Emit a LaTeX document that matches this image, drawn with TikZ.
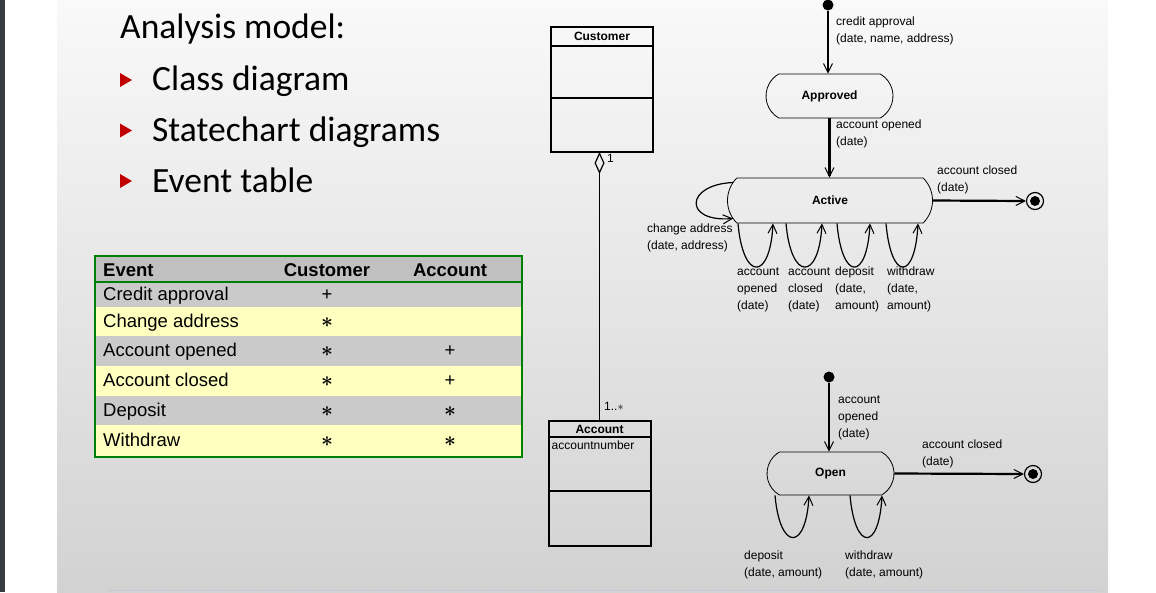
\documentclass[tikz,border=0pt]{standalone}
\usepackage{fontspec}
\setmainfont{Liberation Sans}
\newfontfamily\slidefont{Carlito}
\usetikzlibrary{arrows.meta,shapes.misc,positioning}
\definecolor{stripgray}{RGB}{58,61,64}
\definecolor{slidetop}{RGB}{249,249,249}
\definecolor{slidebot}{RGB}{210,210,210}
\definecolor{dotblue}{RGB}{185,198,215}
\definecolor{bulletred}{RGB}{192,0,0}
\definecolor{headgray}{RGB}{192,192,192}
\definecolor{rowgray}{RGB}{202,202,202}
\definecolor{rowyellow}{RGB}{255,255,192}
\definecolor{tablegreen}{RGB}{0,128,0}
\newcommand\evstar{{\fontsize{20}{20}\selectfont\boldmath$\ast$}}
\tikzset{
  slidetext/.style={anchor=base west, inner sep=0pt, font=\slidefont\fontsize{35.5}{40}\selectfont},
  cell/.style={anchor=base, inner sep=0pt, font=\fontsize{18.5}{20}\selectfont},
  lbl/.style={anchor=base west, align=left, inner sep=0pt, font=\fontsize{12}{17}\selectfont},
  statebox/.style={draw, line width=0.8pt, rounded rectangle, rounded rectangle arc length=120,
    inner sep=0pt, font=\bfseries\fontsize{12}{14}\selectfont},
  trans/.style={line width=1.2pt, -{Straight Barb[length=9pt,width=9pt,line width=1pt]}},
  mainarc/.style={trans, line width=2.2pt},
  initdot/.style={circle, fill, inner sep=0pt, minimum size=11pt},
  finaldot/.style={circle, draw, line width=1.2pt, inner sep=0pt, minimum size=17pt,
    path picture={\fill (path picture bounding box.center) circle (5pt);}},
  classbox/.style={draw, line width=2pt, minimum width=102pt, inner sep=0pt, outer sep=0pt},
  classline/.style={line width=2pt},
  classname/.style={inner sep=0pt, font=\bfseries\fontsize{12}{14}\selectfont},
}
\begin{document}
\begin{tikzpicture}[x=1pt,y=-1pt]
\useasboundingbox (0,0) rectangle (1156,592);
% slide background
\fill[white] (0,0) rectangle (1156,592);
\fill[stripgray] (0,0) rectangle (5,592);
\shade[top color=slidetop, bottom color=slidebot] (57,0) rectangle (1108,592);
\draw[dotblue, line width=1.2pt, dash pattern=on 2pt off 1.5pt] (110,590.5) -- (1100,590.5);

% title and bullets
\node[slidetext] (title) at (120,38) {Analysis model:};
\foreach \txt [count=\i] in {Class diagram, Statechart diagrams, Event table} {
  \pgfmathsetmacro\by{80+50.5*(\i-1)}
  \pgfmathsetmacro\ty{90+51*(\i-1)}
  \fill[bulletred] (120,\by-7) -- (132,\by) -- (120,\by+7) -- cycle;
  \node[slidetext] (item\i) at (152,\ty) {\txt};
}

% event table
\fill[headgray] (95,256) rectangle (522,282);
\node[cell, anchor=base west, font=\bfseries\fontsize{18.5}{20}\selectfont] (hev) at (103,276) {Event};
\node[cell, font=\bfseries\fontsize{18.5}{20}\selectfont] (hcu) at (327,276) {Customer};
\node[cell, font=\bfseries\fontsize{18.5}{20}\selectfont] (hac) at (450,276) {Account};
\foreach \name/\cu/\ac/\top/\bot/\col [count=\r] in {
  Credit approval/+/{}/282/307/rowgray,
  Change address/\evstar/{}/307/336/rowyellow,
  Account opened/\evstar/+/336/366/rowgray,
  Account closed/\evstar/+/366/396/rowyellow,
  Deposit/\evstar/\evstar/396/425/rowgray,
  Withdraw/\evstar/\evstar/425/457/rowyellow} {
  \pgfmathsetmacro\base{(\top+\bot)/2+5.5}
  \fill[\col] (95,\top) rectangle (522,\bot);
  \draw[line width=0.8pt] (95,\bot) -- (522,\bot);
  \node[cell, anchor=base west] (ev\r) at (103,\base) {\name};
  \node[cell] (cu\r) at (327,\base) {\cu};
  \node[cell] (ac\r) at (450,\base) {\ac};
}
\draw[tablegreen, line width=2.5pt] (95,256) rectangle (522,457);
\draw[tablegreen, line width=2.5pt] (95,282) -- (522,282);

% class diagram
\node[classbox, minimum height=125pt] (cust) at (602,89.5) {};
\node[classname] (custname) at ([yshift=-9.5pt]cust.north) {Customer};
\draw[classline] ([yshift=-19pt]cust.north west) -- ([yshift=-19pt]cust.north east);
\draw[classline] ([yshift=-71pt]cust.north west) -- ([yshift=-71pt]cust.north east);
\node[classbox, minimum height=125pt] (acc) at (599.5,483.5) {};
\node[classname] (accname) at ([yshift=-8pt]acc.north) {Account};
\draw[classline] ([yshift=-16pt]acc.north west) -- ([yshift=-16pt]acc.north east);
\draw[classline] ([yshift=-70pt]acc.north west) -- ([yshift=-70pt]acc.north east);
\node[lbl, anchor=west] (accnum) at ([xshift=3pt,yshift=-24pt]acc.north west) {accountnumber};
\draw[line width=1.5pt, -{Diamond[open,length=22pt,width=10pt,line width=1.2pt]}]
  (acc.north) -- (acc.north |- cust.south);
\node[lbl, anchor=west] (mult1) at (607,158) {1};
\node[lbl, anchor=west] (mult2) at (604,406) {1..$\ast$};

% statechart of customer
\node[initdot] (ini1) at (828,5) {};
\node[statebox, minimum width=127pt, minimum height=44pt] (appr) at (829.5,96) {Approved};
\node[statebox, rounded rectangle arc length=90, minimum width=205pt, minimum height=45pt]
  (act) at (830,200.5) {Active};
\node[finaldot] (fin1) at (1035,201) {};
\draw[mainarc] (ini1) -- (ini1 |- appr.north);
\draw[mainarc] (appr.south) -- (appr.south |- act.north);
\draw[mainarc] (act.east) -- (fin1.west);
\draw[trans] ([xshift=6pt,yshift=18pt]act.west) .. controls +(-48,2) and +(-50,4)
  .. ([xshift=6pt,yshift=-18pt]act.west);
\foreach \a/\b in {-92/-57,-44/-8,7/40,56/88}
  \draw[trans] ([xshift=\a pt]act.south) .. controls +(5,58) and +(-3,58) .. ([xshift=\b pt]act.south);
\node[lbl] (l1) at (836,42) {credit approval\\(date, name, address)};
\node[lbl] (l2) at (836,145) {account opened\\(date)};
\node[lbl] (l3) at (937,191) {account closed\\(date)};
\node[lbl] (l4) at (647,249) {change address\\(date, address)};
\node[lbl] (l5) at (737,309) {account\\opened\\(date)};
\node[lbl] (l6) at (788,309) {account\\closed\\(date)};
\node[lbl] (l7) at (835,309) {deposit\\(date,\\amount)};
\node[lbl] (l8) at (887,309) {withdraw\\(date,\\amount)};

% statechart of account
\node[initdot] (ini2) at (829,377) {};
\node[statebox, minimum width=127pt, minimum height=43pt] (open) at (830.5,473.5) {Open};
\node[finaldot] (fin2) at (1033,474) {};
\draw[mainarc] (ini2) -- (ini2 |- open.north);
\draw[mainarc] (open.east) -- (fin2.west);
\foreach \a/\b in {-55.5/-21.5,19.5/51.5}
  \draw[trans] ([xshift=\a pt]open.south) .. controls +(5,56) and +(-3,56) .. ([xshift=\b pt]open.south);
\node[lbl] (m1) at (838,437) {account\\opened\\(date)};
\node[lbl] (m2) at (922,465) {account closed\\(date)};
\node[lbl] (m3) at (744,576) {deposit\\(date, amount)};
\node[lbl] (m4) at (845,576) {withdraw\\(date, amount)};
\end{tikzpicture}
\end{document}
